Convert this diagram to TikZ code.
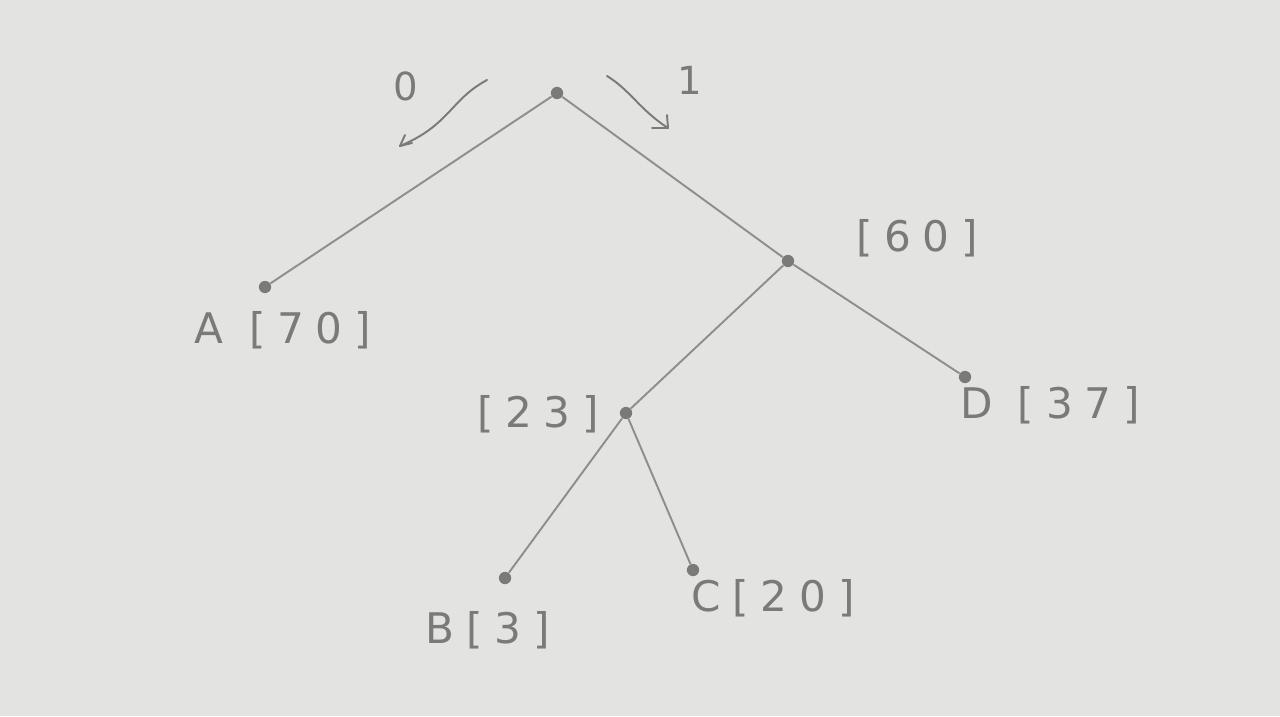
\documentclass[tikz,border=0pt]{standalone}
\usepackage{fontspec}
\setmainfont{DejaVu Sans}
\definecolor{paper}{HTML}{E3E3E1}
\definecolor{pencil}{HTML}{8E8E8C}
\definecolor{ink}{HTML}{7A7A78}
\begin{document}
\begin{tikzpicture}[x=0.02cm,y=-0.02cm,
  edge/.style={draw=pencil,line width=1.1pt},
  dotnode/.style={circle,fill=ink,inner sep=0pt,minimum size=7pt},
  lbl/.style={text=ink,font=\fontsize{24}{26}\selectfont\addfontfeatures{LetterSpace=28}},
  flag/.style={text=ink,font=\fontsize{22}{24}\selectfont},
  hint/.style={draw=ink,line width=1.1pt,line cap=round}]
\fill[paper] (0,0) rectangle (1280,716);
\useasboundingbox (0,0) rectangle (1280,716);
\node[dotnode] (r) at (557,93) {};
\node[dotnode] (a) at (265,287) {};
\node[dotnode] (m) at (788,261) {};
\node[dotnode] (d) at (965,377) {};
\node[dotnode] (n) at (626,413) {};
\node[dotnode] (b) at (505,578) {};
\node[dotnode] (c) at (693,570) {};
\draw[edge] (r) -- (a);
\draw[edge] (r) -- (m);
\draw[edge] (m) -- (d);
\draw[edge] (m) -- (n);
\draw[edge] (n) -- (b);
\draw[edge] (n) -- (c);
\node[flag] (z) at (406,86) {0};
\node[flag] (o) at (690,80) {1};
\coordinate (z1) at (487,80);
\coordinate (z2) at (400,146);
\coordinate (o1) at (607,76);
\coordinate (o2) at (668,128);
\draw[hint] (z1) .. controls (450,100) and (450,125) .. (z2);
\draw[hint] (z2) -- (405,135);
\draw[hint] (z2) -- (412,143);
\draw[hint] (o1) .. controls (630,90) and (640,110) .. (o2);
\draw[hint] (o2) -- (652,128);
\draw[hint] (o2) -- (667,115);
\node[lbl] (la) at (283,330) {A [70]};
\node[lbl] (lm) at (917,238) {[60]};
\node[lbl] (ln) at (538,414) {[23]};
\node[lbl] (ld) at (1050,405) {D [37]};
\node[lbl] (lb) at (488,630) {B[3]};
\node[lbl] (lc) at (773,598) {C[20]};
\end{tikzpicture}
\end{document}
